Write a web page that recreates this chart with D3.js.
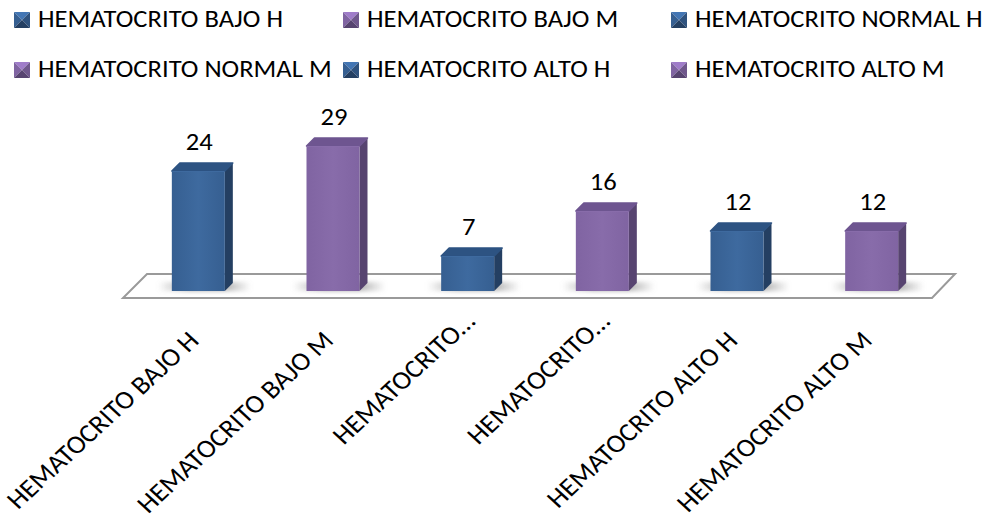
<!DOCTYPE html>
<html>
<head>
<meta charset="utf-8">
<script src="https://cdn.jsdelivr.net/npm/d3@7/dist/d3.min.js"></script>
<style>
  html, body { margin: 0; padding: 0; background: #fff; }
  svg { display: block; }
  text { font-family: Carlito, "Open Sans", sans-serif; fill: #000; }
</style>
</head>
<body>
<svg id="chart" width="990" height="523"></svg>
<script>
// Hematocrit groups by sex (H = hombres, M = mujeres)
const categories = [
  "HEMATOCRITO BAJO H",
  "HEMATOCRITO BAJO M",
  "HEMATOCRITO NORMAL H",
  "HEMATOCRITO NORMAL M",
  "HEMATOCRITO ALTO H",
  "HEMATOCRITO ALTO M"
];
const values = [24, 29, 7, 16, 12, 12];
const sexes = ["H", "M", "H", "M", "H", "M"];
const legendOrder = [
  "HEMATOCRITO BAJO H", "HEMATOCRITO BAJO M", "HEMATOCRITO NORMAL H",
  "HEMATOCRITO NORMAL M", "HEMATOCRITO ALTO H", "HEMATOCRITO ALTO M"
];

const palette = {
  H: { front: "#365F91", light: "#3E6A9F", side: "#243F62", top: "#2D5382" },
  M: { front: "#8064A2", light: "#886CAA", side: "#574470", top: "#6E5590" }
};

const svg = d3.select("#chart");
const defs = svg.append("defs");

// text metrics: the chart uses slightly widened Calibri-style lettering
const fontSize = 25;
const probe = svg.append("text").attr("font-size", fontSize).text("HEMATOCRITO BAJO H");
const probeW = probe.node().getComputedTextLength();
probe.remove();
const textScaleX = 245 / probeW;             // horizontal widening of legend / value text
const axisFont = fontSize * 238 / probeW;    // axis labels run ~238px along the baseline
const axisScaleX = 1.083;

// scales
const x = d3.scaleBand().domain(categories).range([131, 939]).padding(0);
const y = d3.scaleLinear().domain([0, 30]).range([291, 141]);
const barW = 53, depthX = 8, depthY = 8;

// gradients
Object.entries(palette).forEach(([k, c]) => {
  const g = defs.append("linearGradient").attr("id", "front" + k)
    .attr("x1", 0).attr("x2", 1).attr("y1", 0).attr("y2", 0);
  g.append("stop").attr("offset", "0%").attr("stop-color", c.front);
  g.append("stop").attr("offset", "50%").attr("stop-color", c.light);
  g.append("stop").attr("offset", "100%").attr("stop-color", c.front);
});
const sh = defs.append("linearGradient").attr("id", "shadow")
  .attr("x1", 0).attr("x2", 1).attr("y1", 0).attr("y2", 0);
sh.append("stop").attr("offset", "0%").attr("stop-color", "#888").attr("stop-opacity", 0);
sh.append("stop").attr("offset", "35%").attr("stop-color", "#888").attr("stop-opacity", 0.7);
sh.append("stop").attr("offset", "70%").attr("stop-color", "#888").attr("stop-opacity", 0.7);
sh.append("stop").attr("offset", "100%").attr("stop-color", "#888").attr("stop-opacity", 0);
defs.append("filter").attr("id", "soft").attr("x", "-20%").attr("y", "-50%")
  .attr("width", "140%").attr("height", "200%")
  .append("feGaussianBlur").attr("stdDeviation", 2);

// floor plane
const base = y(0);
const floorFront = 298, floorBack = 274;
svg.append("path")
  .attr("d", `M${123},${floorFront} L${932},${floorFront} L${955},${floorBack} L${147},${floorBack} Z`)
  .attr("fill", "#fff").attr("stroke", "#9a9a9a").attr("stroke-width", 2)
  .attr("stroke-linejoin", "miter");

// bars
const bars = svg.append("g").selectAll("g").data(categories).join("g")
  .attr("transform", d => `translate(${x(d) + x.bandwidth() / 2 - barW / 2},0)`);

bars.append("rect")
  .attr("x", -14).attr("y", base - 9).attr("width", barW + 40).attr("height", 9)
  .attr("fill", "url(#shadow)").attr("filter", "url(#soft)");

bars.each(function (d, i) {
  const g = d3.select(this);
  const c = palette[sexes[i]];
  const top = y(values[i]);
  // right side
  g.append("path")
    .attr("d", `M${barW},${top} L${barW + depthX},${top - depthY} L${barW + depthX},${base - depthY} L${barW},${base} Z`)
    .attr("fill", c.side);
  // top
  g.append("path")
    .attr("d", `M0,${top} L${barW},${top} L${barW + depthX},${top - depthY} L${depthX},${top - depthY} Z`)
    .attr("fill", c.top).attr("stroke", c.top).attr("stroke-width", 1.5).attr("stroke-linejoin", "round");
  // front
  g.append("rect")
    .attr("x", 0).attr("y", top).attr("width", barW).attr("height", base - top)
    .attr("fill", `url(#front${sexes[i]})`);
  g.append("line")
    .attr("x1", 0.5).attr("x2", barW - 0.5).attr("y1", top + 0.5).attr("y2", top + 0.5)
    .attr("stroke", c.light).attr("stroke-width", 1);
});

// value labels
svg.append("g").selectAll("text").data(categories).join("text")
  .attr("transform", (d, i) => `translate(${x(d) + x.bandwidth() / 2 + 1},${y(values[i]) - 21}) scale(${textScaleX},1)`)
  .attr("text-anchor", "middle")
  .attr("font-size", fontSize)
  .text((d, i) => values[i]);

// category labels, rotated (long names are shortened with an ellipsis)
const shortName = s => s.length > 19 ? s.split(" ")[0] + "\u2026" : s;
svg.append("g").selectAll("text").data(categories).join("text")
  .attr("transform", d => {
    const full = shortName(d) === d;
    const cx = x(d) + x.bandwidth() / 2 + (full ? 2 : 9);
    const cy = full ? 342 : 323;
    return `translate(${cx},${cy}) scale(${axisScaleX},1) rotate(-45)`;
  })
  .attr("text-anchor", "end")
  .attr("font-size", axisFont)
  .text(d => shortName(d));

// legend
const colX = [14, 343, 671];
const rowY = [27, 77];
const legend = svg.append("g").selectAll("g").data(legendOrder).join("g")
  .attr("transform", (d, i) => `translate(${colX[i % 3]},${rowY[Math.floor(i / 3)]})`);

legend.each(function (d) {
  const g = d3.select(this);
  const c = palette[d.endsWith("H") ? "H" : "M"];
  const s = 16, t = -15;
  const lightShade = d3.color(c.front).brighter(0.6).formatHex();
  const darkShade = d3.color(c.front).darker(0.4).formatHex();
  const cxm = s / 2, cym = t + s / 2;
  g.append("path").attr("d", `M0,${t} L${s},${t} L${cxm},${cym} Z`).attr("fill", lightShade);
  g.append("path").attr("d", `M0,${t} L0,${t + s} L${cxm},${cym} Z`).attr("fill", c.front);
  g.append("path").attr("d", `M${s},${t} L${s},${t + s} L${cxm},${cym} Z`).attr("fill", darkShade);
  g.append("path").attr("d", `M0,${t + s} L${s},${t + s} L${cxm},${cym} Z`).attr("fill", c.side);
  g.append("text").attr("transform", `translate(24,0) scale(${textScaleX},1)`)
    .attr("font-size", fontSize).text(d);
});
</script>
</body>
</html>
